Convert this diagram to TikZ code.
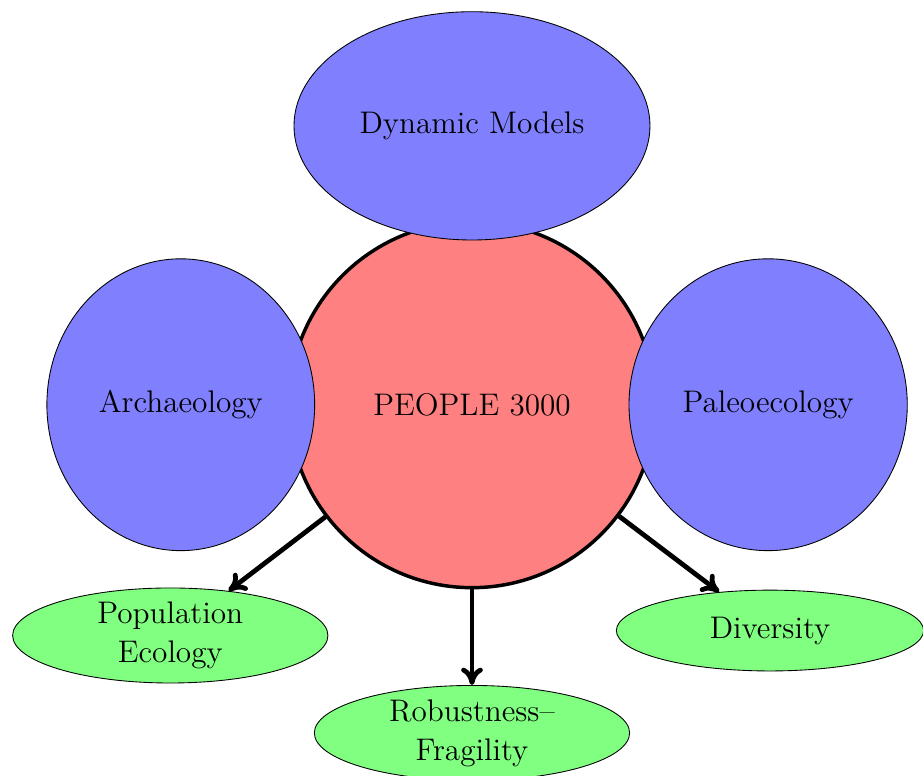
\documentclass[tikz,border=0pt]{standalone}
\usetikzlibrary{shapes.geometric, arrows.meta}

\tikzset{
  core/.style={circle, draw, ultra thick, fill=red!50, minimum size=5.93cm, font=\Large},
  field/.style={ellipse, draw, fill=blue!50, font=\Large},
  topic/.style={ellipse, draw, fill=green!50, font=\Large, align=center},
}

\begin{document}
\begin{tikzpicture}[>={To[length=8pt, width=10pt]}]

    \useasboundingbox (-7.65,-6.01) rectangle (7.31,6.56);

    % 中心的圆
    \node[core] (people) at (0,0) {PEOPLE 3000};

    % 三个蓝色椭圆
    \node[field, minimum width=5.77cm, minimum height=3.70cm] (models) at (0,4.52) {Dynamic Models};
    \node[field, minimum width=4.34cm, minimum height=4.73cm] (archaeo) at (-4.72,0) {Archaeology};
    \node[field, minimum width=4.51cm, minimum height=4.73cm] (paleo) at (4.80,0) {Paleoecology};

    % 三个绿色椭圆
    \node[topic, inner sep=0pt, minimum width=5.11cm, minimum height=1.54cm] (popeco) at (-4.89,-3.74) {Population\\Ecology};
    \node[topic, inner sep=0pt, minimum width=5.11cm, minimum height=1.54cm] (robust) at (0,-5.32) {Robustness--\\Fragility};
    \node[topic, minimum width=4.98cm, minimum height=1.31cm] (divers) at (4.83,-3.66) {Diversity};

    % 箭头
    \draw[->, line width=2.2pt] (people) -- (popeco);
    \draw[->, line width=2.2pt] (people) -- (robust);
    \draw[->, line width=2.2pt] (people) -- (divers);

  \end{tikzpicture}
\end{document}
